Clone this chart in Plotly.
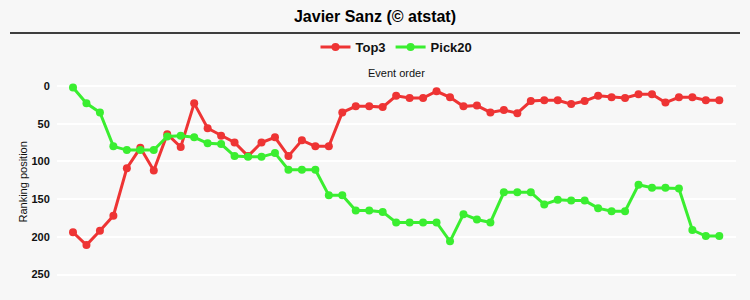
import plotly.graph_objects as go

events = list(range(1, 50))
top3 = [194, 211, 192, 172, 109, 82, 112, 64, 81, 23,
        56, 66, 75, 93, 75, 68, 93, 72, 80, 80,
        35, 27, 27, 28, 13, 16, 16, 7, 15, 27,
        26, 35, 32, 36, 20, 19, 19, 24, 20, 13,
        15, 16, 11, 11, 22, 15, 15, 19, 19]
pick20 = [2, 23, 35, 80, 85, 85, 85, 67, 66, 68,
          76, 77, 93, 94, 94, 89, 111, 111, 111, 145,
          145, 165, 165, 167, 181, 181, 181, 181, 206, 170,
          177, 181, 141, 141, 141, 157, 151, 152, 152, 162,
          166, 166, 131, 135, 135, 136, 191, 199, 199]
y_ticks = [0, 50, 100, 150, 200, 250]

RED = "rgb(238,52,52)"
GREEN = "rgb(58,238,48)"
FONT = "Liberation Sans, Arial, sans-serif"

W, H = 750, 300
L, R, T, B = 57, 14, 78, 8
PH = H - T - B
PW = W - L - R

fig = go.Figure()
fig.add_trace(go.Scatter(x=events, y=top3, name="Top3", mode="lines+markers",
                         line=dict(color=RED, width=3),
                         marker=dict(color=RED, size=8, symbol="circle")))
fig.add_trace(go.Scatter(x=events, y=pick20, name="Pick20", mode="lines+markers",
                         line=dict(color=GREEN, width=3),
                         marker=dict(color=GREEN, size=8, symbol="circle")))

def py(px):
    return 1 + (T - px) / PH

def pxx(px):
    return (px - L) / PW

fig.update_layout(
    width=W, height=H,
    margin=dict(l=L, r=R, t=T, b=B, autoexpand=False),
    paper_bgcolor="#f7f7f7",
    plot_bgcolor="#f7f7f7",
    font=dict(family=FONT, color="#111"),
    title=dict(text="<b>Javier Sanz (© atstat)</b>", x=0.5, xanchor="center",
               y=1 - 16 / H, yanchor="middle",
               font=dict(size=16, color="#000", family=FONT)),
    legend=dict(orientation="h", x=0.5, xanchor="center", y=py(47), yanchor="middle",
                font=dict(size=13, color="#111", family=FONT, weight="bold"),
                bgcolor="rgba(0,0,0,0)", itemwidth=30),
    showlegend=True,
    xaxis=dict(range=[-0.188, 50.24], showgrid=False, zeroline=False,
               showticklabels=False, ticks="", showline=False, fixedrange=True,
               automargin=False),
    yaxis=dict(range=[273.2, -10.6], tickvals=y_ticks, showgrid=True,
               gridcolor="#ffffff", gridwidth=2, zeroline=False, showline=False,
               ticks="outside", ticklen=4, tickcolor="rgba(0,0,0,0)",
               tickfont=dict(size=11, color="#111", family=FONT, weight="bold"),
               automargin=False),
    annotations=[
        dict(text="Event order", xref="paper", yref="paper", x=0.5, y=py(73),
             xanchor="center", yanchor="middle", showarrow=False,
             font=dict(size=11, color="#111", family=FONT)),
        dict(text="Ranking position", xref="paper", yref="paper", x=pxx(22.5), y=py(182),
             xanchor="center", yanchor="middle", showarrow=False, textangle=-90,
             font=dict(size=11, color="#111", family=FONT)),
    ],
    shapes=[dict(type="line", xref="paper", yref="paper",
                 x0=pxx(10), x1=pxx(740),
                 y0=py(33), y1=py(33), line=dict(color="#000", width=1.5))],
)

fig.write_html("out.html")
